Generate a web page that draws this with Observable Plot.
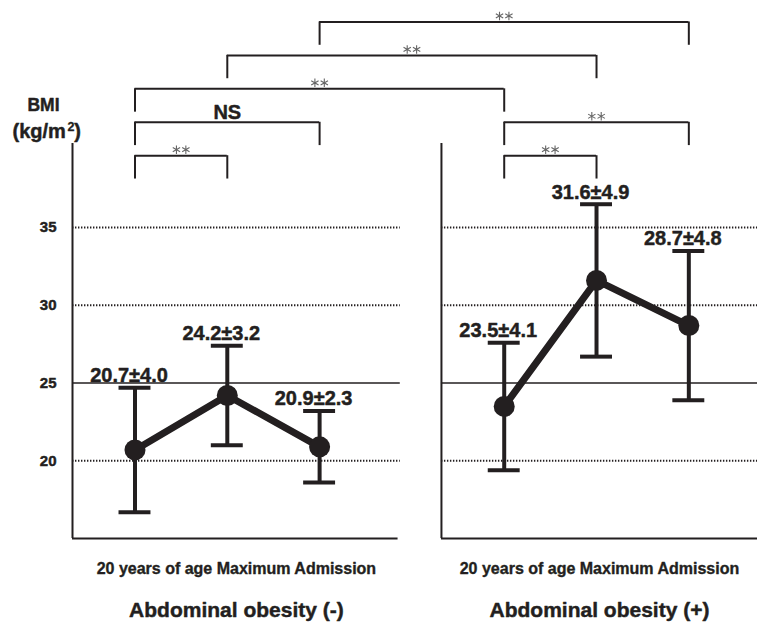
<!DOCTYPE html>
<html><head><meta charset="utf-8">
<script src="https://cdn.jsdelivr.net/npm/d3@7"></script>
<script src="https://cdn.jsdelivr.net/npm/@observablehq/plot@0.6"></script>
<style>body{margin:0;background:#fff}</style>
</head><body><div id="chart"></div>
<script>
// ---- data ----
const groups = ["Abdominal obesity (-)", "Abdominal obesity (+)"];
const timepoints = ["20 years of age", "Maximum", "Admission"];
const xIndex = [0, 1, 2, 4, 5, 6];
const means = [20.7, 24.2, 20.9, 23.5, 31.6, 28.7];
const sds = [4.0, 3.2, 2.3, 4.1, 4.9, 4.8];
const yTicks = [20, 25, 30, 35];
const dottedGrid = [20, 30, 35];
const solidGrid = [25];
const bracketFrom = [0, 0, 0, 1, 2, 4, 4];
const bracketTo = [1, 2, 4, 5, 6, 5, 6];
const bracketLevel = [1, 2, 3, 4, 5, 1, 2];
const bracketLabel = ["**", "NS", "**", "**", "**", "**", "**"];

// ---- layout ----
const ink = "#231f20";
const xDomain = [-0.677, 6.744];
const yDomain = [9.09, 49.6];
const panelStart = [-0.677, 3.32];
const panelEnd = [2.874, 6.744];
const axisBottom = 15, axisTop = 40.4;
const capHalf = 0.173;
const levelY = l => 39.62 + (l - 1) * 2.15;
const legDrop = 1.5;
const heavy = {fontWeight: "bold", fill: ink, stroke: ink, strokeWidth: 0.45};

const points = xIndex.map((x, i) => ({
  x, mean: means[i], sd: sds[i], group: groups[Math.floor(i / 3)],
  label: `${means[i].toFixed(1)}±${sds[i].toFixed(1)}`
}));
const panels = groups.map((g, i) => ({group: g, x1: panelStart[i], x2: panelEnd[i], xc: (panelStart[i] + panelEnd[i]) / 2}));
const gridDotted = panels.flatMap(p => dottedGrid.map(v => ({...p, v})));
const gridSolid = panels.flatMap(p => solidGrid.map(v => ({...p, v})));
const brackets = bracketFrom.map((f, i) => ({from: f, to: bracketTo[i], y: levelY(bracketLevel[i]), label: bracketLabel[i]}));
const legs = brackets.flatMap(b => [{x: b.from, y: b.y}, {x: b.to, y: b.y}]);
const starBrackets = brackets.filter(b => b.label === "**");
const starMid = starBrackets.map(b => ({x: (b.from + b.to) / 2, y: b.y}));

const chart = Plot.plot({
  width: 757, height: 630,
  marginLeft: 72, marginRight: 0, marginTop: 0, marginBottom: 0,
  x: {domain: xDomain, axis: null},
  y: {domain: yDomain, axis: null},
  style: {fontFamily: "'Liberation Sans', Arial, sans-serif", background: "#fff", color: ink},
  marks: [
    // grid
    Plot.ruleY(gridDotted, {y: "v", x1: "x1", x2: "x2", stroke: ink, strokeWidth: 2, strokeDasharray: "1.4,1.6"}),
    Plot.ruleY(gridSolid, {y: "v", x1: "x1", x2: "x2", stroke: ink, strokeWidth: 1.6}),
    // panel axes
    Plot.ruleX(panels, {x: "x1", y1: axisBottom, y2: axisTop, stroke: ink, strokeWidth: 2}),
    Plot.ruleY(panels, {y: axisBottom, x1: "x1", x2: d => d.x1 === panelStart[0] ? 2.85 : d.x2, stroke: ink, strokeWidth: 2}),
    // y tick labels
    Plot.text(yTicks, {x: xDomain[0], y: d => d, text: d => String(d), dx: -16, textAnchor: "end", fontSize: 15, ...heavy}),
    Plot.text(["BMI"], {x: xDomain[0], y: axisTop, dx: -29, dy: -38, text: d => d, fontSize: 17.5, ...heavy}),
    Plot.text(["(kg/m"], {x: xDomain[0], y: axisTop, dx: -60, dy: -12, textAnchor: "start", text: d => d, fontSize: 20, ...heavy}),
    Plot.text(["2"], {x: xDomain[0], y: axisTop, dx: -1.5, dy: -17, text: d => d, fontSize: 12.5, ...heavy, strokeWidth: 0.3}),
    Plot.text([")"], {x: xDomain[0], y: axisTop, dx: 5, dy: -12, text: d => d, fontSize: 20, ...heavy}),
    // error bars
    Plot.ruleX(points, {x: "x", y1: d => d.mean - d.sd, y2: d => d.mean + d.sd, stroke: ink, strokeWidth: 4}),
    Plot.ruleY(points, {y: d => d.mean + d.sd, x1: d => d.x - capHalf, x2: d => d.x + capHalf, stroke: ink, strokeWidth: 4}),
    Plot.ruleY(points, {y: d => d.mean - d.sd, x1: d => d.x - capHalf, x2: d => d.x + capHalf, stroke: ink, strokeWidth: 4}),
    // mean lines + dots
    Plot.line(points, {x: "x", y: "mean", z: "group", stroke: ink, strokeWidth: 7}),
    Plot.dot(points, {x: "x", y: "mean", r: 10.5, fill: ink, stroke: "none"}),
    // value labels
    Plot.text(points, {x: "x", y: d => d.mean + d.sd, text: "label", dx: -6, dy: -12, fontSize: 20, ...heavy}),
    // significance brackets
    Plot.ruleY(brackets, {y: "y", x1: "from", x2: "to", stroke: ink, strokeWidth: 2}),
    Plot.ruleX(legs, {x: "x", y1: d => d.y - legDrop, y2: "y", stroke: ink, strokeWidth: 2}),
    Plot.dot(starMid, {x: "x", y: "y", dx: -4.7, dy: -6, symbol: "asterisk", r: 4, stroke: "#666", strokeWidth: 1.1}),
    Plot.dot(starMid, {x: "x", y: "y", dx: 4.7, dy: -6, symbol: "asterisk", r: 4, stroke: "#666", strokeWidth: 1.1}),
    Plot.text(brackets.filter(b => b.label !== "**"), {x: d => (d.from + d.to) / 2, y: "y", text: "label", dy: -10, fontSize: 20, ...heavy}),
    // bottom labels
    Plot.text(panels, {x: "xc", frameAnchor: "bottom", dy: -57, text: () => timepoints.join(" "), fontSize: 16, ...heavy, strokeWidth: 0.35}),
    Plot.text(panels, {x: "xc", frameAnchor: "bottom", dy: -14, text: "group", fontSize: 21, ...heavy})
  ]
});
document.getElementById("chart").appendChild(chart);
</script>
</body></html>
